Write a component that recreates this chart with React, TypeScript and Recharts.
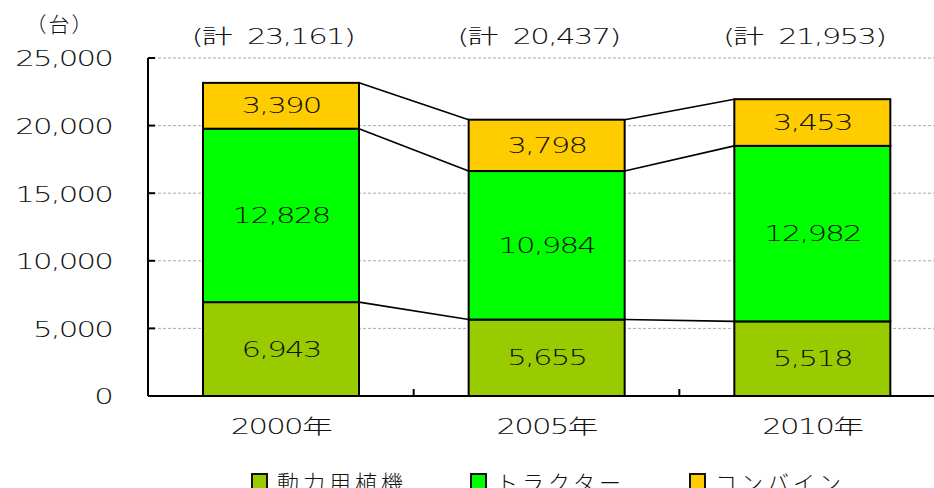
import React from 'react';
import { BarChart, Bar, XAxis, YAxis, CartesianGrid, Legend, LabelList } from 'recharts';

// ---- data ----
const categories = ['2000年', '2005年', '2010年'];
const planters = [6943, 5655, 5518];
const tractors = [12828, 10984, 12982];
const combines = [3390, 3798, 3453];
const totals = [23161, 20437, 21953];
const yTicks = [0, 5000, 10000, 15000, 20000, 25000];
const seriesNames = ['動力用植機', 'トラクター', 'コンバイン'];
const seriesKeys = ['planter', 'tractor', 'combine'];
const seriesColors = ['#99CC00', '#00FF00', '#FFCC00'];
const unitLabel = '（台）';

const data = categories.map((c, i) => ({
  year: c,
  totalLabel: `(計\u00A0 ${totals[i].toLocaleString('en-US')})`,
  planter: planters[i],
  tractor: tractors[i],
  combine: combines[i],
}));

// ---- layout ----
const CHART_W = 960;
const CHART_H = 520;
const MARGIN = { top: 28, right: 15, left: 0, bottom: 64 };
const Y_W = 148;
const PLOT_W = CHART_W - MARGIN.right - MARGIN.left - Y_W;
const BAND = PLOT_W / categories.length;
const FONT = "'DejaVu Sans', 'Noto Sans CJK JP', sans-serif";
const FS = 20.5;
const SX = 1.5;
const LS = -1.2;

const ScaledText = ({ x, y, text, anchor = 'middle' }: any) => (
  <text
    transform={`translate(${x},${y}) scale(${SX},1)`}
    textAnchor={anchor}
    dy={FS * 0.365}
    fontFamily={FONT}
    fontSize={FS}
    fontWeight={200}
    letterSpacing={LS}
    fill="#111"
  >
    {text}
  </text>
);

const YTick = (props: any) => {
  const { x, y, payload } = props;
  return <ScaledText x={x} y={y + 1} text={Number(payload.value).toLocaleString('en-US')} anchor="end" />;
};

const X_MARGIN = 31;
const XTick = (props: any) => {
  const { x, y, payload } = props;
  const half = payload && payload.offset ? payload.offset : BAND / 2;
  const axisY = y - X_MARGIN;
  return (
    <g>
      <ScaledText x={x} y={y} text={payload.value} />
      <line x1={x + half} y1={axisY} x2={x + half} y2={axisY - 7} stroke="#000" strokeWidth={2} />
    </g>
  );
};

const TopTick = (props: any) => {
  const { x, y, payload } = props;
  return <ScaledText x={x - 8} y={y} text={payload.value} />;
};

const cum = (row: any, si: number) => seriesKeys.slice(0, si + 1).reduce((s, k) => s + row[k], 0);

const makeShape = (si: number) => (props: any) => {
  const { x, y, width, height, index } = props;
  const row = data[index];
  const own = row[seriesKeys[si]];
  const high = cum(row, si);
  const low = high - own;
  const k = height / own;
  const base = y + height;
  let connector = null;
  if (index < data.length - 1) {
    const nextHigh = cum(data[index + 1], si);
    const ny = base + (low - nextHigh) * k;
    connector = <line x1={x + width} y1={y} x2={x + BAND} y2={ny} stroke="#000" strokeWidth={1.6} />;
  }
  return (
    <g>
      <rect x={x} y={y} width={width} height={height} fill={seriesColors[si]} stroke="#000" strokeWidth={2} />
      {connector}
    </g>
  );
};

const makeLabel = (si: number) => (props: any) => {
  const { x, y, width, height, value } = props;
  return <ScaledText x={x + width / 2} y={y + height / 2} text={Number(value).toLocaleString('en-US')} />;
};

const LegendContent = () => (
  <div style={{ display: 'flex', fontFamily: "'Noto Sans CJK JP', sans-serif", fontWeight: 300, fontSize: 22, lineHeight: '32px', color: '#111' }}>
    {seriesNames.map((n, i) => (
      <div key={n} style={{ display: 'flex', alignItems: 'center', width: 219 }}>
        <span
          style={{
            display: 'inline-block',
            width: 13,
            height: 13,
            background: seriesColors[i],
            border: '2px solid #111',
            marginRight: 9,
          }}
        />
        <span style={{ letterSpacing: 4 }}>{n}</span>
      </div>
    ))}
  </div>
);

export default function App() {
  return (
    <div style={{ position: 'absolute', left: 0, top: 0, width: 934, height: 488, overflow: 'hidden', background: '#fff' }}>
      <div
        style={{
          position: 'absolute',
          left: 0,
          top: 8,
          width: 120,
          textAlign: 'center',
          fontFamily: "'Noto Sans CJK JP', sans-serif",
          fontWeight: 300,
          fontSize: 21,
          letterSpacing: 2,
          lineHeight: '30px',
          color: '#111',
        }}
      >
        {unitLabel}
      </div>
      <BarChart width={CHART_W} height={CHART_H} data={data} margin={MARGIN} barCategoryGap="20.7%">
        <CartesianGrid vertical={false} stroke="#aaa" strokeDasharray="3 2" />
        <XAxis
          xAxisId="top"
          orientation="top"
          dataKey="totalLabel"
          height={30}
          axisLine={false}
          tickLine={false}
          tickSize={0}
          tickMargin={21}
          tick={<TopTick />}
          interval={0}
        />
        <XAxis
          dataKey="year"
          height={60}
          axisLine={{ stroke: '#000', strokeWidth: 2 }}
          tickLine={false}
          tickSize={0}
          tickMargin={X_MARGIN}
          tick={<XTick />}
          interval={0}
        />
        <YAxis
          width={Y_W}
          domain={[0, 25000]}
          ticks={yTicks}
          interval={0}
          tickSize={-7}
          tickMargin={43}
          axisLine={{ stroke: '#000', strokeWidth: 2 }}
          tickLine={{ stroke: '#000', strokeWidth: 2 }}
          tick={<YTick />}
        />
        <Legend
          verticalAlign="middle"
          align="center"
          layout="horizontal"
          content={<LegendContent />}
          wrapperStyle={{ position: 'absolute', top: 465, left: 251, width: 700, height: 32 }}
        />
        {seriesKeys.map((k, si) => (
          <Bar
            key={k}
            dataKey={k}
            name={seriesNames[si]}
            stackId="a"
            fill={seriesColors[si]}
            isAnimationActive={false}
            shape={makeShape(si)}
          >
            <LabelList dataKey={k} content={makeLabel(si)} />
          </Bar>
        ))}
      </BarChart>
    </div>
  );
}
